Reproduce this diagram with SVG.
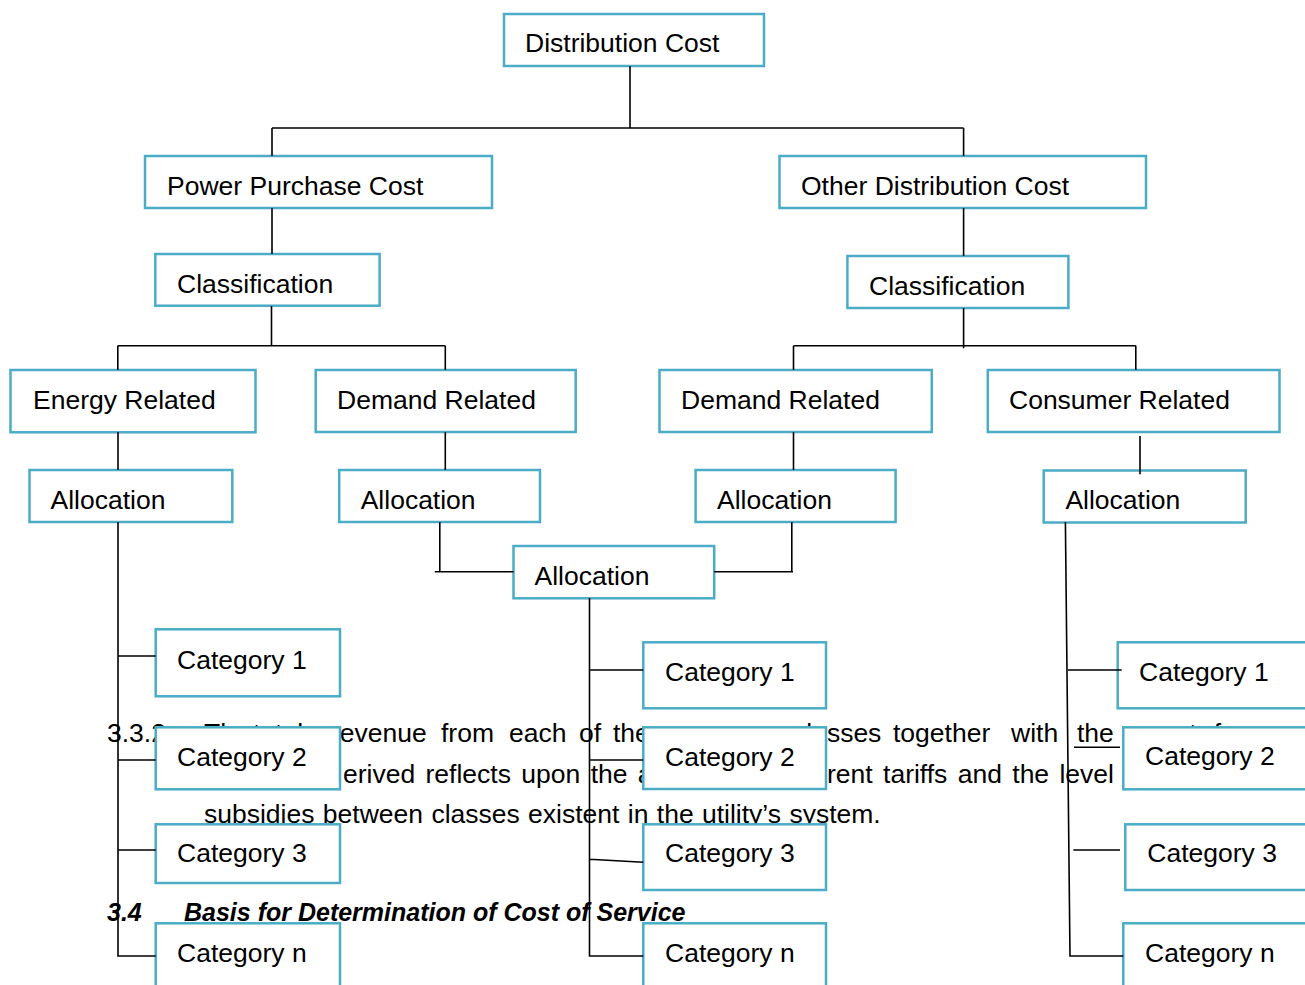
<svg xmlns="http://www.w3.org/2000/svg" width="1305" height="985" viewBox="0 0 1305 985">
<style>
.doc{font-family:"Liberation Sans",Arial,sans-serif;font-size:26.5px;fill:#000}
.head{font-family:"Liberation Sans",Arial,sans-serif;font-size:25px;font-weight:bold;font-style:italic;fill:#000}
.box{fill:#fff;stroke:#4BACC6;stroke-width:2.5}
.lbl{font-family:"Liberation Sans",Arial,sans-serif;font-size:26.5px;fill:#000}
.con{fill:none;stroke:#000;stroke-width:1.6}
</style>
<rect x="0" y="0" width="1305" height="985" fill="#fff"/>
<g id="document-text">
<text class="doc" y="741.7"><tspan x="107">3.3.2</tspan><tspan x="204">The</tspan><tspan x="253">total</tspan><tspan x="331">revenue</tspan><tspan x="441">from</tspan><tspan x="509">each</tspan><tspan x="579">of</tspan><tspan x="613">the</tspan><tspan x="793">classes</tspan><tspan x="893">together</tspan><tspan x="1011">with</tspan><tspan x="1077">the</tspan><tspan x="1148">cost</tspan><tspan x="1199">of</tspan></text>
<line x1="1074" y1="747.3" x2="1120" y2="747.3" stroke="#000" stroke-width="1.5"/>
<text class="doc" y="783" word-spacing="3"><tspan x="343">erived reflects upon the a</tspan><tspan x="827">rent tariffs and the level</tspan></text>
<text class="doc" x="204" y="823" word-spacing="1">subsidies between classes existent in the utility’s system.</text>
<text class="head" y="921"><tspan x="107">3.4</tspan><tspan x="184">Basis for Determination of Cost of Service</tspan></text>
</g>
<g id="nodes">
<g id="distribution-cost"><rect class="box" x="504" y="14" width="260" height="52"/><text class="lbl" x="525" y="52">Distribution Cost</text></g>
<g id="power-purchase-cost"><rect class="box" x="145" y="156" width="347" height="52"/><text class="lbl" x="167" y="195">Power Purchase Cost</text></g>
<g id="other-distribution-cost"><rect class="box" x="779.5" y="156" width="366.5" height="52"/><text class="lbl" x="801" y="195">Other Distribution Cost</text></g>
<g id="classification-left"><rect class="box" x="155.3" y="254" width="224.3" height="51.7"/><text class="lbl" x="177" y="293">Classification</text></g>
<g id="classification-right"><rect class="box" x="847.4" y="256" width="221" height="52"/><text class="lbl" x="869" y="295">Classification</text></g>
<g id="energy-related"><rect class="box" x="10.5" y="370" width="245" height="62.3"/><text class="lbl" x="33" y="409">Energy Related</text></g>
<g id="demand-related-left"><rect class="box" x="315.7" y="370" width="260" height="62"/><text class="lbl" x="337" y="409">Demand Related</text></g>
<g id="demand-related-right"><rect class="box" x="659.5" y="370" width="272.3" height="62"/><text class="lbl" x="681" y="409">Demand Related</text></g>
<g id="consumer-related"><rect class="box" x="987.8" y="370" width="291.7" height="62"/><text class="lbl" x="1009" y="409">Consumer Related</text></g>
<g id="allocation-1"><rect class="box" x="29.5" y="470" width="202.8" height="52"/><text class="lbl" x="50.5" y="509">Allocation</text></g>
<g id="allocation-2"><rect class="box" x="339.2" y="470" width="200.8" height="52"/><text class="lbl" x="360.7" y="509">Allocation</text></g>
<g id="allocation-3"><rect class="box" x="695.6" y="470" width="200" height="52"/><text class="lbl" x="717" y="509">Allocation</text></g>
<g id="allocation-4"><rect class="box" x="1043.7" y="470.5" width="202" height="52"/><text class="lbl" x="1065.4" y="509">Allocation</text></g>
<g id="allocation-mid"><rect class="box" x="513.5" y="546" width="200.7" height="52.3"/><text class="lbl" x="534.5" y="585">Allocation</text></g>
<g id="left-category-1"><rect class="box" x="155.7" y="629.3" width="184.3" height="67"/><text class="lbl" x="177" y="669.3">Category 1</text></g>
<g id="left-category-2"><rect class="box" x="155.7" y="727.3" width="184.3" height="62"/><text class="lbl" x="177" y="765.7">Category 2</text></g>
<g id="left-category-3"><rect class="box" x="155.7" y="824.3" width="184.3" height="58.7"/><text class="lbl" x="177" y="862.3">Category 3</text></g>
<g id="left-category-n"><rect class="box" x="155.7" y="923.3" width="184.3" height="80"/><text class="lbl" x="177" y="962.3">Category n</text></g>
<g id="mid-category-1"><rect class="box" x="643.3" y="642.3" width="182.7" height="66"/><text class="lbl" x="665" y="681">Category 1</text></g>
<g id="mid-category-2"><rect class="box" x="643.3" y="727.3" width="182.7" height="61.7"/><text class="lbl" x="665" y="765.7">Category 2</text></g>
<g id="mid-category-3"><rect class="box" x="643.3" y="824.3" width="182.7" height="65.7"/><text class="lbl" x="665" y="862.3">Category 3</text></g>
<g id="mid-category-n"><rect class="box" x="643.3" y="923.3" width="182.7" height="80"/><text class="lbl" x="665" y="961.7">Category n</text></g>
<g id="right-category-1"><rect class="box" x="1117.7" y="642.3" width="210" height="66"/><text class="lbl" x="1139" y="681">Category 1</text></g>
<g id="right-category-2"><rect class="box" x="1123.3" y="727.3" width="210" height="62"/><text class="lbl" x="1145" y="765">Category 2</text></g>
<g id="right-category-3"><rect class="box" x="1125.3" y="824.3" width="210" height="65.7"/><text class="lbl" x="1147.3" y="861.7">Category 3</text></g>
<g id="right-category-n"><rect class="box" x="1123.3" y="923.3" width="210" height="80"/><text class="lbl" x="1145" y="961.7">Category n</text></g>
</g>
<g id="connectors" class="con">
<path d="M630 66V128M272 128H963.6M272 128V156M963.6 128V156"/>
<path d="M272 208V254M963.6 208V256"/>
<path d="M271.5 306V345.7M117.8 345.7H445.3M117.8 345.7V370M445.3 345.7V370"/>
<path d="M963.6 308V348.3M793.5 345.7H1135.8M793.5 345.7V370M1135.8 345.7V370"/>
<path d="M118 432V470M445.3 432V470M793.5 432V470M1140 436V474.3"/>
<path d="M439.8 522V571.7M434.8 571.7H513.5"/>
<path d="M791.8 522V571.7M714.2 571.7H793"/>
<path d="M118 522V956H155.7M118 656H155.7M118 760H155.7M118 850H155.7"/>
<path d="M589.5 598V956H643.3M589.5 670H643.3M589.5 760H643.3M589.5 859.3L643.3 862.3"/>
<path d="M1065.4 522L1070 956H1123.3M1068 670H1121.7M1073.3 850H1120"/>
</g>
</svg>
